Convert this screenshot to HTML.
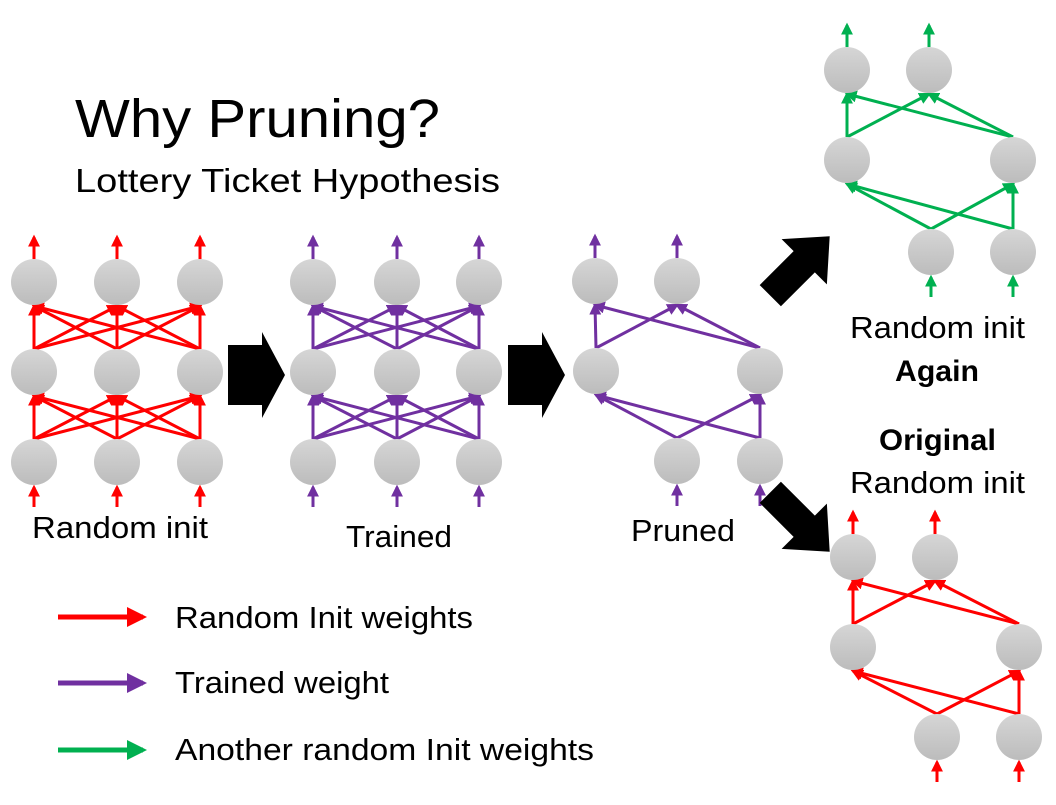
<!DOCTYPE html>
<html><head><meta charset="utf-8"><style>
body{margin:0;background:#fff;}
svg text{font-family:"Liberation Sans",sans-serif;}
</style></head><body>
<svg id="s" width="1056" height="800" xmlns="http://www.w3.org/2000/svg">
<defs>
<linearGradient id="g" x1="0" y1="0" x2="0" y2="1"><stop offset="0" stop-color="#d6d6d6"/><stop offset="1" stop-color="#bcbcbc"/></linearGradient>
<marker id="mr" markerWidth="4" markerHeight="4" refX="3.2" refY="2" orient="auto" markerUnits="strokeWidth"><path d="M0,0L4,2L0,4z" fill="#ff0000"/></marker>
<marker id="mp" markerWidth="4" markerHeight="4" refX="3.2" refY="2" orient="auto" markerUnits="strokeWidth"><path d="M0,0L4,2L0,4z" fill="#7030a0"/></marker>
<marker id="mg" markerWidth="4" markerHeight="4" refX="3.2" refY="2" orient="auto" markerUnits="strokeWidth"><path d="M0,0L4,2L0,4z" fill="#00b050"/></marker>
</defs>
<g id="net"></g>
<text x="75" y="137" font-size="54" textLength="365" lengthAdjust="spacingAndGlyphs">Why Pruning?</text>
<text x="75" y="192" font-size="33" textLength="425" lengthAdjust="spacingAndGlyphs">Lottery Ticket Hypothesis</text>
<text x="32" y="538" font-size="31" textLength="176" lengthAdjust="spacingAndGlyphs">Random init</text>
<text x="346" y="547" font-size="31" textLength="106" lengthAdjust="spacingAndGlyphs">Trained</text>
<text x="631" y="541" font-size="31" textLength="104" lengthAdjust="spacingAndGlyphs">Pruned</text>
<text x="850" y="338" font-size="31" textLength="175" lengthAdjust="spacingAndGlyphs">Random init</text>
<text x="895" y="381" font-size="30" font-weight="bold" textLength="84" lengthAdjust="spacingAndGlyphs">Again</text>
<text x="879" y="450" font-size="30" font-weight="bold" textLength="117" lengthAdjust="spacingAndGlyphs">Original</text>
<text x="850" y="493" font-size="31" textLength="175" lengthAdjust="spacingAndGlyphs">Random init</text>
<text x="175" y="628" font-size="31" textLength="298" lengthAdjust="spacingAndGlyphs">Random Init weights</text>
<text x="175" y="693" font-size="31" textLength="214" lengthAdjust="spacingAndGlyphs">Trained weight</text>
<text x="175" y="760" font-size="31" textLength="419" lengthAdjust="spacingAndGlyphs">Another random Init weights</text>
<path d="M228,345H262V332L285,375L262,418V405H228Z" fill="#000"/>
<path d="M508,345H542V332L565,375L542,418V405H508Z" fill="#000"/>
<g transform="translate(800,266) rotate(-45)"><path d="M-42,-15H6V-32L42,0L6,32V15H-42Z" fill="#000"/></g>
<g transform="translate(800,522) rotate(45)"><path d="M-42,-15H6V-32L42,0L6,32V15H-42Z" fill="#000"/></g>
</svg>
<script>
var g=document.getElementById('net'),NS='http://www.w3.org/2000/svg',R=23;
function L(x1,y1,x2,y2,c,m,w){var l=document.createElementNS(NS,'line');l.setAttribute('x1',x1);l.setAttribute('y1',y1);l.setAttribute('x2',x2);l.setAttribute('y2',y2);l.setAttribute('stroke',c);l.setAttribute('stroke-width',w||3);l.setAttribute('marker-end','url(#'+m+')');g.appendChild(l);}
function C(x,y){var c=document.createElementNS(NS,'circle');c.setAttribute('cx',x);c.setAttribute('cy',y);c.setAttribute('r',R);c.setAttribute('fill','url(#g)');g.appendChild(c);}
function net(rows,ys,c,m,w){
 for(var i=0;i<2;i++){var lo=rows[i],up=rows[i+1];lo.forEach(function(a){up.forEach(function(b){L(a,ys[i]-R,b,ys[i+1]+R+1,c,m,w);});});}
 rows[0].forEach(function(a){L(a,ys[0]+R+22,a,ys[0]+R+2,c,m,w);});
 rows[2].forEach(function(a){L(a,ys[2]-R,a,ys[2]-R-22,c,m,w);});
 rows.forEach(function(r,i){r.forEach(function(a){C(a,ys[i]);});});
}
net([[34,117,200],[34,117,200],[34,117,200]],[462,372,282],'#ff0000','mr',3);
net([[313,397,479],[313,397,479],[313,397,479]],[462,372,282],'#7030a0','mp',3);
net([[677,760],[596,760],[595,677]],[461,371,281],'#7030a0','mp',3);
net([[931,1013],[847,1013],[847,929]],[252,160,70],'#00b050','mg',3);
net([[937,1019],[853,1019],[853,935]],[737,647,557],'#ff0000','mr',3);
L(58,617,143,617,'#ff0000','mr',5);
L(58,683,143,683,'#7030a0','mp',5);
L(58,750,143,750,'#00b050','mg',5);
</script>
</body></html>
